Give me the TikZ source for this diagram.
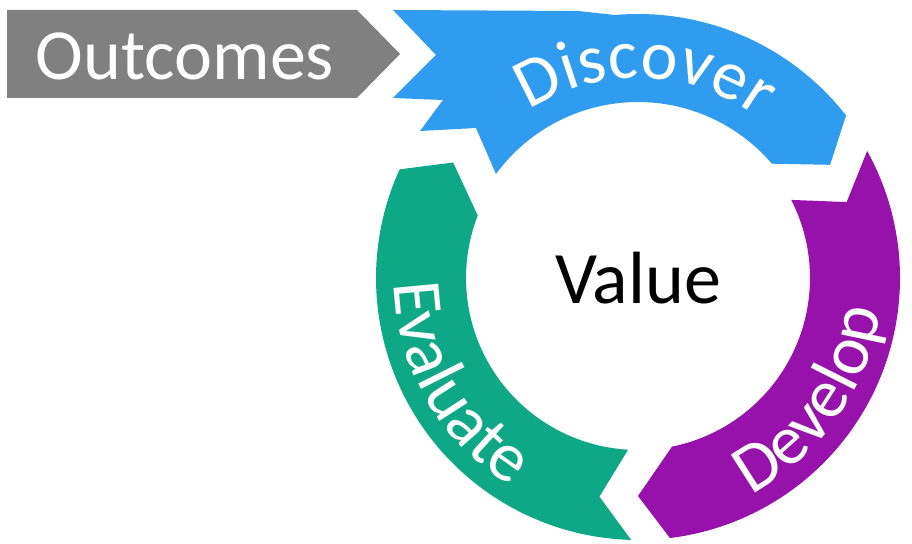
\documentclass[tikz,border=0pt]{standalone}
\usepackage{fontspec}
\setmainfont{Carlito}
\usepackage{tikz}
\usetikzlibrary{calc}
\usetikzlibrary{decorations.text}
\definecolor{qqbbff}{rgb}{0.19,0.61,0.94}
\definecolor{ttqqaa}{rgb}{0.59,0.07,0.67}
\definecolor{qqaabb}{rgb}{0.06,0.66,0.53}
\definecolor{grey80}{rgb}{0.5,0.5,0.5}
\tikzstyle{arc label}=[decoration={text along path,text align=center,text color=white,text={#1}},decorate]

\begin{document}
\begin{tikzpicture}[line cap=round,line join=round,x=1pt,y=1pt]
            \useasboundingbox (0,0) rectangle (912,543);
            \fill[color=grey80] (7,533) -- (357,533) -- (400,489) -- (357,445) -- (7,445) -- cycle;
            \node[text=white,font=\fontsize{72}{72}\selectfont] (outcomes) at (185,487) {Outcomes};
            \begin{scope}[shift={(638,265)}]
                \fill[color=qqbbff] (-245,268) -- (-60,267) -- (95:264) arc[start angle=95,end angle=38,radius=264] -- (30.5:223) -- (40.5:176) arc[start angle=40.5,end angle=143.8,radius=176] -- (-162,150) -- (-218,147) -- (-195,178) -- (-245,180) -- (-202,223) -- cycle;
                \fill[color=qqaabb] (268.5:262) arc[start angle=268.5,end angle=155.5,radius=262] -- (148:218) -- (158.7:172) arc[start angle=158.7,end angle=266.7,radius=172] -- (260:222) -- cycle;
                \fill[color=ttqqaa] (29:262) arc[start angle=29,end angle=-83,radius=262] -- (-90:218) -- (-78.6:172) arc[start angle=-78.6,end angle=27,radius=172] -- (20:222) -- cycle;
                \path[arc label={|\fontsize{70}{70}\selectfont|Discover}] (150:200) arc[start angle=150,end angle=26,radius=200];
                \path[arc label={|\fontsize{70}{70}\selectfont|Evaluate}] (163:244) arc[start angle=163,end angle=257,radius=244];
                \path[arc label={|\fontsize{70}{70}\selectfont|Develop}] (278:244) arc[start angle=278,end angle=372,radius=244];
                \node[font=\fontsize{74}{74}\selectfont] (value) at (0,0) {Value};
            \end{scope}
        \end{tikzpicture}
\end{document}
